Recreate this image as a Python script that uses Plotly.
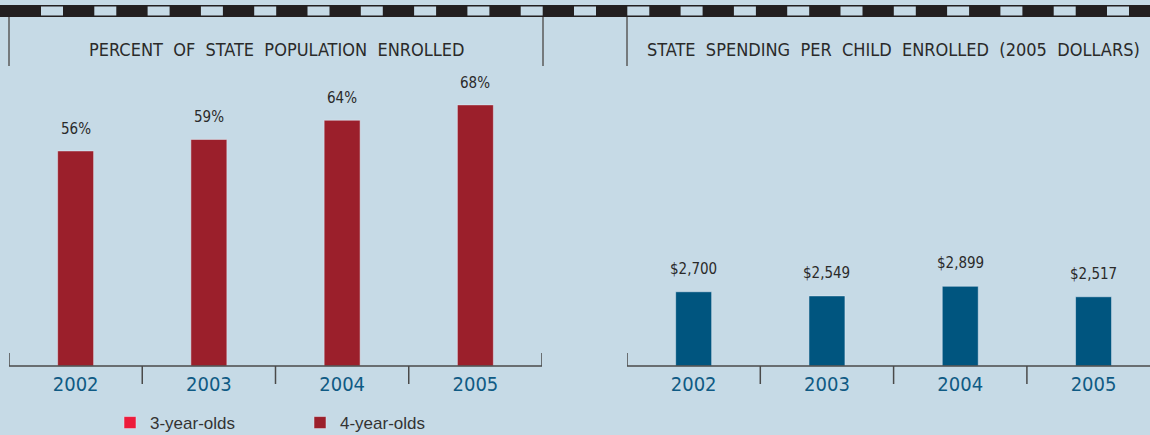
import plotly.graph_objects as go

# ---- data ----
years = ["2002", "2003", "2004", "2005"]
four_year_pct = [56, 59, 64, 68]
three_year_pct = [0, 0, 0, 0]
spending = [2700, 2549, 2899, 2517]

title_left = "PERCENT\u00a0 OF\u00a0 STATE\u00a0 POPULATION\u00a0 ENROLLED"
title_right = "STATE\u00a0 SPENDING\u00a0 PER\u00a0 CHILD\u00a0 ENROLLED\u00a0 (2005\u00a0 DOLLARS)"

# ---- style ----
W, H = 1150, 435
BG = "#c6dae6"
RED4 = "#9b1f2b"
RED3 = "#ec1b3b"
BLUE = "#00557f"
YEARBLUE = "#0f5a84"
TXT = "#2a2a2a"
LINE = "#4a4a4a"
NARROW = "Liberation Sans Narrow, DejaVu Sans Condensed, Arial Narrow, sans-serif"

def px_x(p):
    return p / W

def px_y(p):
    return 1 - p / H

base_px = 366
y_dom = [(H - base_px) / H, 1.0]
plot_h = base_px

fig = go.Figure()

fig.add_trace(go.Bar(x=years, y=three_year_pct, name="3-year-olds", marker_color=RED3,
                     width=0.27, xaxis="x", yaxis="y", hoverinfo="skip"))
fig.add_trace(go.Bar(x=years, y=four_year_pct, name="4-year-olds", marker_color=RED4,
                     width=0.27, xaxis="x", yaxis="y"))
fig.add_trace(go.Bar(x=years, y=spending, name="spending", marker_color=BLUE,
                     width=0.27, xaxis="x2", yaxis="y2", showlegend=False))

annotations = []
for i, v in enumerate(four_year_pct):
    annotations.append(dict(x=i, y=v, xref="x", yref="y", text=f"{v}%", showarrow=False,
                            yanchor="bottom", yshift=11, font=dict(family=NARROW, size=15, color=TXT)))
for i, v in enumerate(spending):
    annotations.append(dict(x=i, y=v, xref="x2", yref="y2", text=f"${v:,}", showarrow=False,
                            yanchor="bottom", yshift=12, font=dict(family=NARROW, size=15, color=TXT)))

annotations.append(dict(x=px_x(276), y=px_y(49), xref="paper", yref="paper", text=title_left,
                        showarrow=False, xanchor="center", yanchor="middle",
                        font=dict(family=NARROW, size=18, color=TXT)))
annotations.append(dict(x=px_x(893), y=px_y(49), xref="paper", yref="paper", text=title_right,
                        showarrow=False, xanchor="center", yanchor="middle",
                        font=dict(family=NARROW, size=18, color=TXT)))

shapes = []
# top stripe
shapes.append(dict(type="rect", xref="paper", yref="paper", x0=0, x1=1, y0=px_y(17), y1=px_y(5),
                   fillcolor="#231f20", line=dict(width=0), layer="above"))
bx = 41.0
while bx < W:
    shapes.append(dict(type="rect", xref="paper", yref="paper", x0=px_x(bx), x1=px_x(min(bx + 22, W)),
                       y0=px_y(15.5), y1=px_y(6.5), fillcolor=BG, line=dict(width=0), layer="above"))
    bx += 53.3
# vertical dividers
for xv in (9, 543, 627):
    shapes.append(dict(type="line", xref="paper", yref="paper", x0=px_x(xv), x1=px_x(xv),
                       y0=px_y(17), y1=px_y(66), line=dict(color="#5a5a5a", width=1.5)))
# axis baselines + ticks
for xa, ya in (("x", "y"), ("x2", "y2")):
    shapes.append(dict(type="line", xref=xa, yref="paper", x0=-0.5, x1=3.5,
                       y0=px_y(base_px), y1=px_y(base_px), line=dict(color=LINE, width=1.5)))
    for t in (0.5, 1.5, 2.5):
        shapes.append(dict(type="line", xref=xa, yref="paper", x0=t, x1=t,
                           y0=px_y(base_px), y1=px_y(base_px + 18), line=dict(color=LINE, width=1.5)))
    for t in (-0.5, 3.5):
        shapes.append(dict(type="line", xref=xa, yref="paper", x0=t, x1=t,
                           y0=px_y(base_px - 13), y1=px_y(base_px), line=dict(color=LINE, width=1.5)))

xcommon = dict(type="category", showgrid=False, zeroline=False, showline=False, ticks="",
               tickfont=dict(family=NARROW, size=20, color=YEARBLUE), fixedrange=True,
               automargin=False, ticklabelstandoff=4)
ycommon = dict(showgrid=False, zeroline=False, showline=False, showticklabels=False, fixedrange=True,
               automargin=False)

fig.update_layout(
    width=W, height=H,
    margin=dict(l=0, r=0, t=0, b=0, autoexpand=False),
    paper_bgcolor=BG, plot_bgcolor=BG,
    barmode="overlay",
    xaxis=dict(domain=[px_x(9), px_x(542)], range=[-0.5, 3.5], anchor="y", **xcommon),
    yaxis=dict(domain=y_dom, range=[0, plot_h / 3.84], anchor="x", **ycommon),
    xaxis2=dict(domain=[px_x(627), 1.0], range=[-0.5, -0.5 + (W - 627) / 133.3], anchor="y2", **xcommon),
    yaxis2=dict(domain=y_dom, range=[0, plot_h / 0.0275], anchor="x2", **ycommon),
    showlegend=True,
    legend=dict(orientation="h", x=px_x(110), y=px_y(423), xanchor="left", yanchor="middle",
                bgcolor="rgba(0,0,0,0)", font=dict(family="Liberation Sans, DejaVu Sans, sans-serif", size=17, color="#333"),
                entrywidth=145, entrywidthmode="pixels", traceorder="normal"),
    annotations=annotations,
    shapes=shapes,
    font=dict(family=NARROW),
)

fig.write_html("out.html", config={"displayModeBar": False},
               post_script="document.body.style.margin='0';document.body.style.background='" + BG + "';")
